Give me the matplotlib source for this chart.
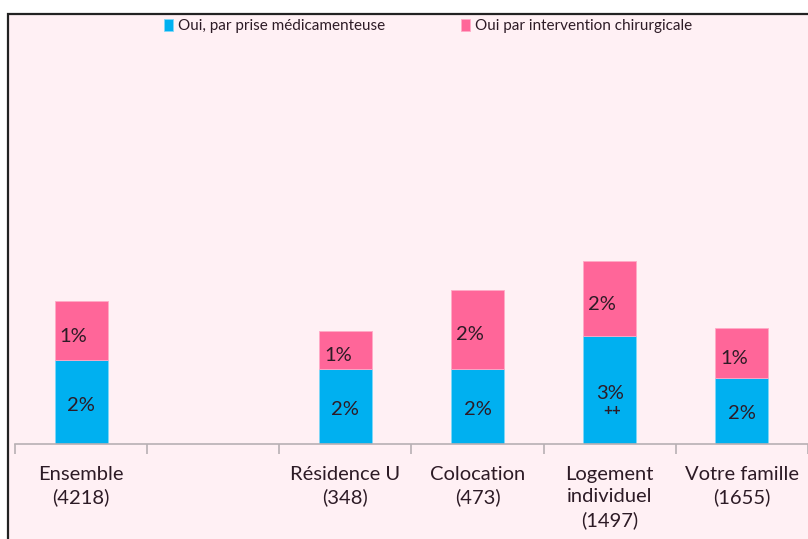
import matplotlib
matplotlib.use("Agg")
import matplotlib.pyplot as plt
from matplotlib.patches import Rectangle

categories = ["Ensemble\n(4218)", "", "Résidence U\n(348)", "Colocation\n(473)",
              "Logement\nindividuel\n(1497)", "Votre famille\n(1655)"]
medic = [2.08, None, 1.87, 1.87, 2.68, 1.65]
chir = [1.48, None, 0.94, 1.97, 1.88, 1.24]
medic_labels = ["2%", "", "2%", "2%", "3%", "2%"]
chir_labels = ["1%", "", "1%", "2%", "2%", "1%"]
medic_marks = ["", "", "", "", "++", ""]
series_names = ["Oui, par prise médicamenteuse", "Oui par intervention chirurgicale"]

BLUE = "#00b0f0"
PINK = "#ff6699"
BG = "#fff0f4"
TXT = "#2d1b26"

plt.rcParams['font.family'] = ['Lato', 'DejaVu Sans']

fig = plt.figure(figsize=(8.08, 5.39), dpi=100)
fig.patch.set_facecolor("white")
# chart area border
border = Rectangle((8/808, -0.01), 1.05, 1 - 13.5/539 + 0.01, transform=fig.transFigure,
                   facecolor=BG, edgecolor="#222222", linewidth=1.6, zorder=-10)
fig.patches.append(border)

ax = fig.add_axes([15/808, (539-443.5)/539, 1 - 15/808, 400/539])
ax.set_facecolor("none")
ax.set_zorder(5)

xs = list(range(len(categories)))
bx, bm, bc = [], [], []
for i in xs:
    if medic[i] is not None:
        bx.append(i); bm.append(medic[i]); bc.append(chir[i])

b1 = ax.bar(bx, bm, width=0.4, color=BLUE, edgecolor="#7fd8f8", linewidth=0.6,
            label=series_names[0])
b2 = ax.bar(bx, bc, width=0.4, bottom=bm, color=PINK, edgecolor="#ffaac6", linewidth=0.6,
            label=series_names[1])

for j, i in enumerate(bx):
    ax.annotate(medic_labels[i], (i, bm[j] / 2), xytext=(0, -2.5), textcoords="offset points",
                ha="center", va="center", fontsize=14.5, color=TXT)
    if medic_marks[i]:
        ax.annotate(medic_marks[i], (i, bm[j] / 2), xytext=(2, -15), textcoords="offset points",
                    ha="center", va="center", fontsize=11, fontweight="bold", color=TXT)
    ax.annotate(chir_labels[i], (i, bm[j] + bc[j] / 2), xytext=(-5.5, -4), textcoords="offset points",
                ha="center", va="center", fontsize=14.5, color=TXT)

ax.set_xlim(-0.5, 5.5)
ax.set_ylim(0, 10)
for s in ["top", "right", "left"]:
    ax.spines[s].set_visible(False)
ax.spines["bottom"].set_color("#b8b0b4")
ax.spines["bottom"].set_linewidth(1.2)
ax.set_yticks([])
ax.set_xticks(xs)
ax.set_xticklabels(categories, fontsize=14.5, color=TXT, linespacing=1.4)
ax.tick_params(axis="x", which="major", length=0, pad=16)
ax.set_xticks([x - 0.5 for x in range(len(categories) + 1)], minor=True)
ax.tick_params(axis="x", which="minor", length=7, color="#b8b0b4", width=1.2)

leg = ax.legend(handles=[b1, b2], loc="center", bbox_to_anchor=(428/808, 1 - 26/539),
                bbox_transform=fig.transFigure, ncol=2, frameon=False, fontsize=11,
                handlelength=0.6, handleheight=0.8, handletextpad=0.3, columnspacing=5.0,
                labelcolor=TXT)

fig.savefig("out.png", dpi=100, facecolor=fig.get_facecolor())
